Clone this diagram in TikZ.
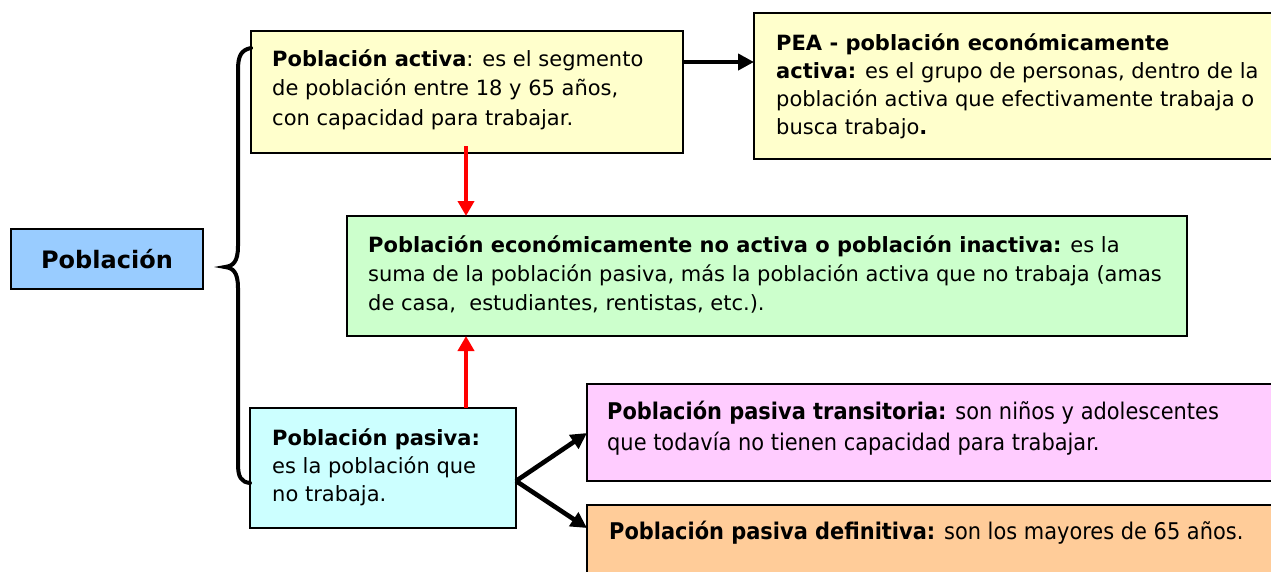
\documentclass[tikz,border=0pt]{standalone}
\usepackage{fontspec}
\setmainfont{DejaVu Sans}
\newfontfamily\condfont{DejaVu Sans}[FakeStretch=0.91]
\usetikzlibrary{arrows.meta}
\newcommand\mystrut{\rule{0pt}{22pt}}
\definecolor{cblue}{HTML}{99CCFF}
\definecolor{cyellow}{HTML}{FFFFCC}
\definecolor{cgreen}{HTML}{CCFFCC}
\definecolor{ccyan}{HTML}{CCFFFF}
\definecolor{cpink}{HTML}{FFCCFF}
\definecolor{corange}{HTML}{FFCC99}
\definecolor{cred}{HTML}{FF0000}
\begin{document}
\begin{tikzpicture}[x=1pt,y=-1pt,
  box/.style={draw=black, line width=2pt, anchor=north west, inner sep=0pt, outer sep=0pt},
  txt/.style={anchor=north west, inner sep=0pt, align=left},
  norm/.style={font=\fontsize{21}{29.5}\selectfont},
  cond/.style={font=\condfont\fontsize{23}{31}\selectfont},
  arr/.style={line width=4.6pt, -{Triangle[length=16pt,width=16pt]}},
  redarr/.style={arr, draw=cred, -{Triangle[length=15pt,width=16pt]}},
  brace/.style={line width=4pt, line cap=round}]
\useasboundingbox (0,0) rectangle (1271,571);
\clip (0,0) rectangle (1271,571);

% boxes
\node[box, fill=cblue, minimum width=192pt, minimum height=60pt] (pob) at (11,229) {};
\node[box, fill=cyellow, minimum width=432pt, minimum height=122pt] (activa) at (251,31) {};
\node[box, fill=cyellow, minimum width=560pt, minimum height=146pt] (pea) at (754,13) {};
\node[box, fill=cgreen, minimum width=840pt, minimum height=120pt] (green) at (347,216) {};
\node[box, fill=ccyan, minimum width=266pt, minimum height=120pt] (pasiva) at (250,408) {};
\node[box, fill=cpink, minimum width=700pt, minimum height=97pt] (pink) at (587,384) {};
\node[box, fill=corange, minimum width=700pt, minimum height=100pt] (orange) at (587,505) {};

% texts
\node[font=\fontsize{24}{28}\selectfont\bfseries, inner sep=0pt] (tpob) at (pob.center) {Población};
\node[txt, norm] (tactiva) at (272,44) {\mystrut\textbf{Población activa}: es el segmento\\de población entre 18 y 65 años,\\con capacidad para trabajar.};
\node[txt, font=\fontsize{21}{28}\selectfont] (tpea) at (776,28) {\mystrut\textbf{PEA - población económicamente}\\\textbf{activa:} es el grupo de personas, dentro de la\\población activa que efectivamente trabaja o\\busca trabajo\textbf{.}};
\node[txt, font=\fontsize{21}{29.2}\selectfont] (tgreen) at (368,230) {\mystrut\textbf{Población económicamente no activa o población inactiva:} es la\\suma de la población pasiva, más la población activa que no trabaja (amas\\de casa,\ \ estudiantes, rentistas, etc.).};
\node[txt, font=\fontsize{21}{28}\selectfont] (tpasiva) at (272,423) {\mystrut\textbf{Población pasiva:}\\es la población que\\no trabaja.};
\node[txt, cond] (tpink) at (607,397) {\mystrut\textbf{Población pasiva transitoria:} son niños y adolescentes\\que todavía no tienen capacidad para trabajar.};
\node[txt, cond] (torange) at (609,517) {\mystrut\textbf{Población pasiva definitiva:} son los mayores de 65 años.};

% brace
\draw[brace] (activa.north west |- 0,48) .. controls (241,50) and (238,56) .. (238,70)
  -- (238,246) .. controls (238,262) and (233,266) .. (225,267)
  .. controls (233,268) and (238,272) .. (238,288)
  -- (238,464) .. controls (238,477) and (241,482) .. (pasiva.north west |- 0,483);

% connectors
\coordinate (a1) at (683,62);
\coordinate (r1) at (466,146);
\coordinate (p0) at (516,481);
\coordinate (q1) at (0,433);
\coordinate (q2) at (0,528);
\draw[arr] (activa.east |- a1) -- (pea.west |- a1);
\draw[redarr] (r1) -- (r1 |- green.north);
\draw[redarr] (r1 |- pasiva.north) -- (r1 |- green.south);
\draw[arr] (p0) -- (pink.west |- q1);
\draw[arr] (p0) -- (orange.west |- q2);
\end{tikzpicture}
\end{document}
